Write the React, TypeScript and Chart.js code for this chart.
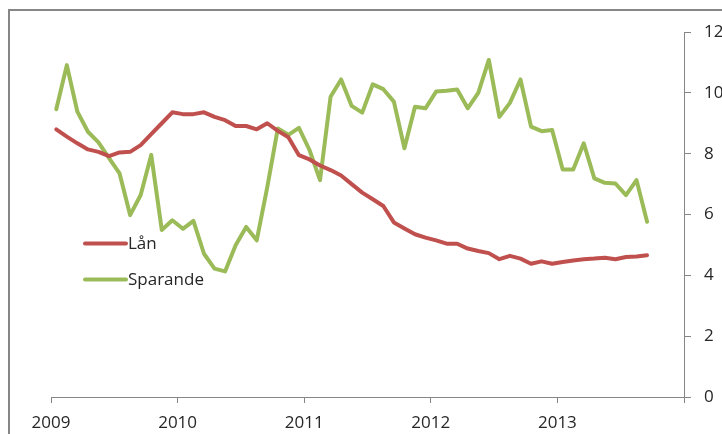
import React, { useEffect, useRef } from "react";
import { Chart, registerables } from "chart.js";

Chart.register(...registerables);

// Year tick labels (category boundaries every 12 months)
const years: string[] = ["2009", "2010", "2011", "2012", "2013"];

// Monthly values Jan 2009 – Sep 2013
const lan: number[] = [
  8.8, 8.56, 8.34, 8.14, 8.06, 7.92, 8.04, 8.06, 8.28, 8.64, 9.0, 9.36,
  9.3, 9.3, 9.36, 9.21, 9.1, 8.91, 8.91, 8.8, 9.0, 8.75, 8.54, 7.95,
  7.81, 7.61, 7.46, 7.28, 7.0, 6.72, 6.5, 6.28, 5.74, 5.54, 5.35, 5.24,
  5.15, 5.04, 5.04, 4.88, 4.8, 4.73, 4.53, 4.64, 4.55, 4.38, 4.46, 4.38,
  4.44, 4.49, 4.53, 4.55, 4.58, 4.53, 4.6, 4.62, 4.66,
];

const sparande: number[] = [
  9.46, 10.91, 9.38, 8.72, 8.37, 7.85, 7.35, 5.98, 6.64, 7.96, 5.49, 5.81,
  5.53, 5.79, 4.71, 4.22, 4.13, 4.99, 5.59, 5.15, 6.9, 8.83, 8.62, 8.85,
  8.12, 7.13, 9.87, 10.44, 9.57, 9.35, 10.28, 10.12, 9.71, 8.18, 9.54, 9.49,
  10.04, 10.07, 10.11, 9.49, 10.0, 11.08, 9.21, 9.67, 10.44, 8.89, 8.74, 8.78,
  7.48, 7.48, 8.34, 7.19, 7.04, 7.02, 6.64, 7.13, 5.76,
];

const yTicks: number[] = [0, 2, 4, 6, 8, 10, 12];

const RED = "#C0504D";
const GREEN = "#9BBB59";
const AXIS = "#868686";
const TEXT = "#262626";
const FONT = "'Open Sans', Lato, sans-serif";

const legendPlugin = {
  id: "insideLegend",
  afterDatasetsDraw(chart: any) {
    const ctx = chart.ctx as CanvasRenderingContext2D;
    const x0 = 85;
    const lineLen = 41;
    const y0 = 243.5;
    const gap = 36;
    ctx.save();
    chart.data.datasets.forEach((ds: any, i: number) => {
      const y = y0 + i * gap;
      ctx.strokeStyle = ds.borderColor;
      ctx.lineWidth = 4;
      ctx.lineCap = "round";
      ctx.beginPath();
      ctx.moveTo(x0, y);
      ctx.lineTo(x0 + lineLen, y);
      ctx.stroke();
      ctx.fillStyle = TEXT;
      ctx.font = `17px ${FONT}`;
      ctx.textBaseline = "middle";
      ctx.textAlign = "left";
      ctx.fillText(ds.label, x0 + lineLen + 2, y + 0.5);
    });
    ctx.restore();
  },
};

export default function App() {
  const ref = useRef<HTMLCanvasElement | null>(null);

  useEffect(() => {
    if (!ref.current) return;
    const chart = new Chart(ref.current, {
      type: "line",
      data: {
        datasets: [
          {
            label: "Lån",
            data: lan.map((v, i) => ({ x: i + 0.5, y: v })),
            borderColor: RED,
            backgroundColor: RED,
            borderWidth: 4,
            pointRadius: 0,
            tension: 0,
            borderJoinStyle: "round",
            borderCapStyle: "round",
          },
          {
            label: "Sparande",
            data: sparande.map((v, i) => ({ x: i + 0.5, y: v })),
            borderColor: GREEN,
            backgroundColor: GREEN,
            borderWidth: 4,
            pointRadius: 0,
            tension: 0,
            borderJoinStyle: "round",
            borderCapStyle: "round",
          },
        ],
      },
      options: {
        responsive: false,
        animation: false,
        layout: { padding: { left: 51, top: 32, right: 0, bottom: 0 } },
        plugins: {
          legend: { display: false },
          tooltip: { enabled: false },
        },
        scales: {
          x: {
            type: "linear",
            min: 0,
            max: years.length * 12,
            afterFit: (s: any) => {
              s.height = 37;
            },
            afterBuildTicks: (s: any) => {
              s.ticks = [...years.map((_, i) => i * 12), years.length * 12].map((v) => ({ value: v }));
            },
            ticks: {
              autoSkip: false,
              maxRotation: 0,
              padding: 10,
              color: TEXT,
              font: { family: FONT, size: 17 },
              callback: (v: any) => {
                const idx = Number(v) / 12;
                return years[idx] ?? "";
              },
            },
            grid: {
              drawOnChartArea: false,
              drawTicks: true,
              tickLength: 6,
              color: AXIS,
              lineWidth: 1,
            },
            border: { display: true, color: AXIS, width: 1 },
          },
          y: {
            type: "linear",
            position: "right",
            min: 0,
            max: 12,
            afterFit: (s: any) => {
              s.width = 38;
            },
            afterBuildTicks: (s: any) => {
              s.ticks = yTicks.map((v) => ({ value: v }));
            },
            ticks: {
              padding: 13,
              color: TEXT,
              font: { family: FONT, size: 17 },
            },
            grid: {
              drawOnChartArea: false,
              drawTicks: true,
              tickLength: 7,
              color: AXIS,
              lineWidth: 1,
            },
            border: { display: true, color: AXIS, width: 1 },
          },
        },
      },
      plugins: [legendPlugin],
    } as any);
    return () => chart.destroy();
  }, []);

  return (
    <div
      style={{
        position: "fixed",
        left: 0,
        top: 0,
        width: 722,
        height: 434,
        overflow: "hidden",
        background: "#fff",
      }}
    >
      <div
        style={{
          position: "absolute",
          left: 8,
          top: 9,
          width: 800,
          height: 500,
          borderLeft: `2px solid ${AXIS}`,
          borderTop: `2px solid ${AXIS}`,
        }}
      />
      <canvas
        ref={ref}
        width={722}
        height={434}
        style={{ position: "absolute", left: 0, top: 0, width: 722, height: 434 }}
      />
    </div>
  );
}
